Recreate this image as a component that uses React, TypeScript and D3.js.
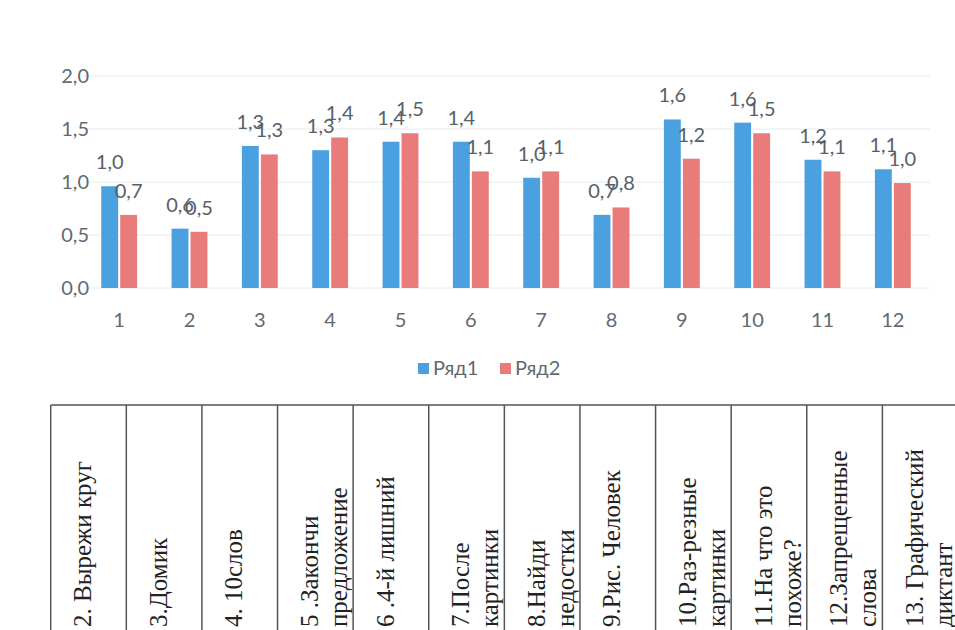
import * as d3 from "d3";

// categories and series values
const categories = ["1", "2", "3", "4", "5", "6", "7", "8", "9", "10", "11", "12"];
const series1 = [0.96, 0.56, 1.34, 1.3, 1.38, 1.38, 1.04, 0.69, 1.59, 1.56, 1.21, 1.12];
const series2 = [0.69, 0.53, 1.26, 1.42, 1.46, 1.1, 1.1, 0.76, 1.22, 1.46, 1.1, 0.99];
const seriesNames = ["Ряд1", "Ряд2"];
const yTicks = [0, 0.5, 1, 1.5, 2];

// rotated labels in the table under the chart
const tableLabels = [
  ["2. Вырежи круг"],
  ["3.Домик"],
  ["4. 10слов"],
  ["5 .Закончи", "предложение"],
  ["6 .4-й лишний"],
  ["7.После", "картинки"],
  ["8.Найди", "недостки"],
  ["9.Рис. Человек"],
  ["10.Раз-резные", "картинки"],
  ["11.На что это", "похоже?"],
  ["12.Запрещенные", "слова"],
  ["13. Графический", "диктант"],
];

const W = 955;
const H = 630;
const colors = ["#4ba1e0", "#e97b7b"];
const axisText = "#5f6a73";
const fontChart = "Lato, 'Open Sans', sans-serif";
const fmt = (v: number) => d3.format(".1f")(v).replace(".", ",");

export default function App() {
  const x0 = d3.scaleBand<string>()
    .domain(categories)
    .range([84, 928])
    .paddingInner(0.49)
    .paddingOuter(0.245);
  const x1 = d3.scaleBand<number>()
    .domain([0, 1])
    .range([0, x0.bandwidth()])
    .paddingInner(0.11);
  const y = d3.scaleLinear().domain([0, 2]).range([288, 76]);

  const allSeries = [series1, series2];

  // table geometry
  const tx = d3.scaleLinear().domain([0, 12]).range([50.7, 958]);
  const tableTop = 405;
  const textStart = 627;

  return (
    <div style={{ position: "absolute", left: 0, top: 0 }}>
      <svg width={W} height={H} style={{ display: "block", background: "#fff" }}>
        {/* gridlines */}
        {yTicks.map((t) => (
          <line key={"g" + t} x1={83} x2={930} y1={y(t)} y2={y(t)} stroke="#e6ebee" strokeWidth={1} />
        ))}
        {/* y tick labels */}
        {yTicks.map((t) => (
          <text key={"yt" + t} x={89} y={y(t)} dy="0.35em" textAnchor="end"
            fontFamily={fontChart} fontSize={20} fill={axisText}>
            {fmt(t)}
          </text>
        ))}
        {/* bars */}
        {allSeries.map((s, si) =>
          s.map((v, i) => (
            <rect key={`b${si}-${i}`}
              x={(x0(categories[i]) ?? 0) + (x1(si) ?? 0)}
              y={y(v)}
              width={x1.bandwidth()}
              height={y(0) - y(v)}
              fill={colors[si]} />
          ))
        )}
        {/* data labels */}
        {allSeries.map((s, si) =>
          s.map((v, i) => (
            <text key={`l${si}-${i}`}
              x={(x0(categories[i]) ?? 0) + (x1(si) ?? 0) + x1.bandwidth() / 2}
              y={y(v) - 17}
              textAnchor="middle" fontFamily={fontChart} fontSize={20} fill="#56616a">
              {fmt(v)}
            </text>
          ))
        )}
        {/* x labels */}
        {categories.map((c) => (
          <text key={"x" + c} x={(x0(c) ?? 0) + x0.bandwidth() / 2} y={320} dy="0.35em"
            textAnchor="middle" fontFamily={fontChart} fontSize={20} fill={axisText}>
            {c}
          </text>
        ))}
        {/* legend */}
        <g fontFamily={fontChart} fontSize={20} fill={axisText}>
          <rect x={418} y={363} width={11} height={11} fill={colors[0]} />
          <text x={433} y={368} dy="0.35em">{seriesNames[0]}</text>
          <rect x={500} y={363} width={11} height={11} fill={colors[1]} />
          <text x={515} y={368} dy="0.35em">{seriesNames[1]}</text>
        </g>

        {/* table */}
        <line x1={tx(0)} x2={tx(12)} y1={tableTop} y2={tableTop} stroke="#555" strokeWidth={1.5} />
        {d3.range(13).map((k) => (
          <line key={"v" + k} x1={tx(k)} x2={tx(k)} y1={tableTop} y2={H} stroke="#555" strokeWidth={1.5} />
        ))}
        {tableLabels.map((lines, k) =>
          lines.map((ln, li) => {
            const cx = tx(k) + 32 + li * 29;
            return (
              <text key={`t${k}-${li}`} x={cx} y={textStart}
                transform={`rotate(-90 ${cx} ${textStart})`}
                dominantBaseline="central"
                fontFamily="'Liberation Serif', 'Times New Roman', serif" fontSize={25} fill="#222">
                {ln}
              </text>
            );
          })
        )}
      </svg>
    </div>
  );
}
